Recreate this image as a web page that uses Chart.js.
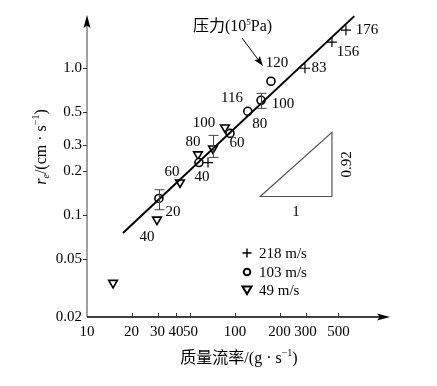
<!DOCTYPE html>
<html>
<head>
<meta charset="utf-8">
<script src="https://cdn.jsdelivr.net/npm/chart.js@4.4.0/dist/chart.umd.min.js"></script>
<style>
html, body { margin: 0; padding: 0; background: #fff; }
#wrap { width: 437px; height: 386px; position: relative; }
</style>
</head>
<body>
<div id="wrap"><canvas id="chart"></canvas></div>
<script>
// axis ticks
const xTicks = [10, 20, 30, 40, 50, 100, 200, 300, 500];
const yTicks = [0.02, 0.05, 0.1, 0.2, 0.3, 0.5, 1.0];

// 218 m/s
const plusX = [65.7, 297, 452, 562];
const plusY = [0.227, 1.0, 1.51, 1.82];
const plusLabels = ['', '83', '156', '176'];

// 103 m/s
const circleX = [30.6, 57.1, 92.5, 122, 150, 175];
const circleY = [0.129, 0.227, 0.359, 0.508, 0.604, 0.815];
const circleLabels = ['20', '40', '60', '80', '100', '120'];
const circleErrLo = [0.108, null, null, null, 0.532, null];
const circleErrHi = [0.148, null, null, null, 0.674, null];

// 49 m/s
const triX = [15, 29.7, 42.5, 56.2, 71, 85.5];
const triY = [0.0342, 0.0925, 0.166, 0.258, 0.283, 0.394];
const triLabels = ['', '40', '60', '80', '', '100'];
const triErrLo = [null, null, null, null, 0.246, null];
const triErrHi = [null, null, null, null, 0.348, null];

// fitted line, slope ~0.92
const fitX = [17.5, 640];
const fitY = [0.075, 2.27];

// slope triangle corners (data units)
const slopeX = [148, 452];
const slopeY = [0.133, 0.365];

const SERIF = "'Liberation Serif', 'Noto Sans CJK SC', serif";

// label nudges in px (text centre relative to the marker)
const plusNudge = [null, [14, 0], [16, 10], [21, 0]];
const circleNudge = [[14, 14], [3, 15], [7, 10], [12, 13], [22, 4], [6, -18]];
const triNudge = [null, [-10, 17], [-8, -10], [-5, -12], null, [-21, -4]];

const toPts = (xs, ys) => xs.map((v, i) => ({ x: v, y: ys[i] }));

function rich(ctx, segs, x, y, align) {
  let w = 0;
  segs.forEach(s => {
    ctx.font = (s.it ? 'italic ' : '') + s.size + 'px ' + SERIF;
    s.w = ctx.measureText(s.t).width;
    w += s.w;
  });
  let cx = align === 'center' ? x - w / 2 : x;
  segs.forEach(s => {
    ctx.font = (s.it ? 'italic ' : '') + s.size + 'px ' + SERIF;
    ctx.fillText(s.t, cx, y + (s.dy || 0));
    cx += s.w;
  });
}

function arrowHead(ctx, x1, y1, x2, y2, len, half) {
  const ang = Math.atan2(y2 - y1, x2 - x1);
  ctx.beginPath();
  ctx.moveTo(x2, y2);
  ctx.lineTo(x2 - len * Math.cos(ang) + half * Math.sin(ang), y2 - len * Math.sin(ang) - half * Math.cos(ang));
  ctx.lineTo(x2 - len * Math.cos(ang) * 0.8, y2 - len * Math.sin(ang) * 0.8);
  ctx.lineTo(x2 - len * Math.cos(ang) - half * Math.sin(ang), y2 - len * Math.sin(ang) + half * Math.cos(ang));
  ctx.closePath();
  ctx.fill();
}

const decor = {
  id: 'decor',
  afterDatasetsDraw(chart) {
    const { ctx, chartArea: a, scales: { x, y } } = chart;
    ctx.save();

    // axes
    ctx.lineWidth = 1.5;
    ctx.strokeStyle = '#808080';
    ctx.beginPath(); ctx.moveTo(a.left, a.bottom); ctx.lineTo(a.left, a.top + 6); ctx.stroke();
    ctx.fillStyle = '#000';
    arrowHead(ctx, a.left, a.bottom, a.left, a.top, 13, 3.5);
    ctx.strokeStyle = '#000';
    ctx.beginPath(); ctx.moveTo(a.left, a.bottom); ctx.lineTo(a.right - 6, a.bottom); ctx.stroke();
    arrowHead(ctx, a.left, a.bottom, a.right + 2, a.bottom, 13, 3.5);

    ctx.lineWidth = 1;
    ctx.strokeStyle = '#333';
    yTicks.slice(1).forEach(v => {
      const py = Math.round(y.getPixelForValue(v)) + 0.5;
      ctx.beginPath(); ctx.moveTo(a.left - 4, py); ctx.lineTo(a.left, py); ctx.stroke();
    });
    xTicks.slice(1).forEach(v => {
      const px = Math.round(x.getPixelForValue(v)) + 0.5;
      ctx.beginPath(); ctx.moveTo(px, a.bottom); ctx.lineTo(px, a.bottom - 4); ctx.stroke();
    });

    // error bars
    ctx.strokeStyle = '#444';
    const bars = (xs, lo, hi) => xs.forEach((v, i) => {
      if (lo[i] == null) return;
      const px = Math.round(x.getPixelForValue(v)) + 0.5;
      const p1 = y.getPixelForValue(lo[i]), p2 = y.getPixelForValue(hi[i]);
      ctx.beginPath();
      ctx.moveTo(px, p1); ctx.lineTo(px, p2);
      ctx.moveTo(px - 5, p1); ctx.lineTo(px + 5, p1);
      ctx.moveTo(px - 5, p2); ctx.lineTo(px + 5, p2);
      ctx.stroke();
    });
    bars(circleX, circleErrLo, circleErrHi);
    bars(triX, triErrLo, triErrHi);

    // point labels
    ctx.fillStyle = '#000';
    ctx.textAlign = 'center';
    ctx.textBaseline = 'middle';
    ctx.font = '15px ' + SERIF;
    const labels = (xs, ys, txt, nudge) => xs.forEach((v, i) => {
      if (!txt[i]) return;
      ctx.fillText(txt[i], x.getPixelForValue(v) + nudge[i][0], y.getPixelForValue(ys[i]) + nudge[i][1]);
    });
    labels(plusX, plusY, plusLabels, plusNudge);
    labels(circleX, circleY, circleLabels, circleNudge);
    labels(triX, triY, triLabels, triNudge);
    ctx.fillText('116', x.getPixelForValue(95.5), y.getPixelForValue(0.623));

    // slope triangle
    const sx1 = x.getPixelForValue(slopeX[0]), sx2 = x.getPixelForValue(slopeX[1]);
    const sy1 = y.getPixelForValue(slopeY[0]), sy2 = y.getPixelForValue(slopeY[1]);
    ctx.strokeStyle = '#555';
    ctx.lineWidth = 1.2;
    ctx.beginPath();
    ctx.moveTo(sx1, sy1); ctx.lineTo(sx2, sy1); ctx.lineTo(sx2, sy2); ctx.closePath();
    ctx.stroke();
    ctx.fillText('1', (sx1 + sx2) / 2, sy1 + 16);
    ctx.save();
    ctx.translate(sx2 + 15, (sy1 + sy2) / 2);
    ctx.rotate(-Math.PI / 2);
    ctx.fillText('0.92', 0, 0);
    ctx.restore();

    // pressure note with arrow
    ctx.textAlign = 'left';
    ctx.textBaseline = 'alphabetic';
    rich(ctx, [
      { t: '压力(10', size: 16 },
      { t: '5', size: 9, dy: -6 },
      { t: 'Pa)', size: 16 }
    ], a.left + 106, 31);
    ctx.strokeStyle = '#000';
    ctx.lineWidth = 1;
    ctx.beginPath(); ctx.moveTo(242, 38); ctx.lineTo(260, 62); ctx.stroke();
    arrowHead(ctx, 242, 38, 263, 66, 10, 3.5);

    // legend
    const lx = 247, rows = [253, 272, 290];
    ctx.lineWidth = 1.4;
    ctx.beginPath();
    ctx.moveTo(lx - 4.5, rows[0]); ctx.lineTo(lx + 4.5, rows[0]);
    ctx.moveTo(lx, rows[0] - 4.5); ctx.lineTo(lx, rows[0] + 4.5);
    ctx.stroke();
    ctx.lineWidth = 2;
    ctx.beginPath(); ctx.arc(lx, rows[1], 3.3, 0, Math.PI * 2); ctx.stroke();
    ctx.beginPath();
    ctx.moveTo(lx - 4.5, rows[2] - 3.5); ctx.lineTo(lx + 4.5, rows[2] - 3.5); ctx.lineTo(lx, rows[2] + 4); ctx.closePath();
    ctx.stroke();
    ctx.font = '15px ' + SERIF;
    ctx.textBaseline = 'middle';
    ['218 m/s', '103 m/s', '49 m/s'].forEach((t, i) => ctx.fillText(t, lx + 12, rows[i] + 1));

    // axis titles
    ctx.textBaseline = 'alphabetic';
    rich(ctx, [
      { t: '质量流率/(g · s', size: 16 },
      { t: '−1', size: 10, dy: -7 },
      { t: ')', size: 16 }
    ], 239, 363, 'center');
    ctx.save();
    ctx.translate(46, 147);
    ctx.rotate(-Math.PI / 2);
    rich(ctx, [
      { t: 'r', size: 16, it: true },
      { t: 'e', size: 10, it: true, dy: 3 },
      { t: '/(cm · s', size: 16 },
      { t: '−1', size: 10, dy: -7 },
      { t: ')', size: 16 }
    ], 0, 0, 'center');
    ctx.restore();

    ctx.restore();
  }
};

new Chart(document.getElementById('chart'), {
  type: 'scatter',
  data: {
    datasets: [
      {
        label: 'fit',
        data: toPts(fitX, fitY),
        showLine: true,
        borderColor: '#000',
        borderWidth: 2,
        pointRadius: 0
      },
      {
        label: '218 m/s',
        data: toPts(plusX, plusY),
        pointStyle: 'cross',
        pointRadius: 5,
        borderColor: '#000',
        borderWidth: 1.2
      },
      {
        label: '103 m/s',
        data: toPts(circleX, circleY),
        pointStyle: 'circle',
        pointRadius: 4,
        borderColor: '#000',
        backgroundColor: '#fff',
        borderWidth: 1.6
      },
      {
        label: '49 m/s',
        data: toPts(triX, triY),
        pointStyle: 'triangle',
        rotation: 180,
        pointRadius: 5,
        borderColor: '#000',
        backgroundColor: '#fff',
        borderWidth: 1.6
      }
    ]
  },
  options: {
    responsive: true,
    maintainAspectRatio: false,
    animation: false,
    layout: { padding: { left: 0, top: 15, right: 49, bottom: 0 } },
    plugins: { legend: { display: false }, tooltip: { enabled: false } },
    scales: {
      x: {
        type: 'logarithmic',
        min: 10,
        max: 1081,
        afterBuildTicks: s => { s.ticks = xTicks.map(v => ({ value: v })); },
        afterFit: s => { s.height = 69; },
        grid: { display: false, drawTicks: false },
        border: { display: false },
        ticks: {
          autoSkip: false,
          maxRotation: 0,
          minRotation: 0,
          padding: 6,
          color: '#000',
          font: { family: SERIF, size: 15 },
          callback: v => String(v)
        }
      },
      y: {
        type: 'logarithmic',
        min: 0.02,
        max: 2.31,
        afterBuildTicks: s => { s.ticks = yTicks.map(v => ({ value: v })); },
        afterFit: s => { s.width = 87; },
        grid: { display: false, drawTicks: false },
        border: { display: false },
        ticks: {
          padding: 5,
          color: '#000',
          font: { family: SERIF, size: 15 },
          callback: v => (v === 1 ? '1.0' : String(v))
        }
      }
    }
  },
  plugins: [decor]
});
</script>
</body>
</html>
